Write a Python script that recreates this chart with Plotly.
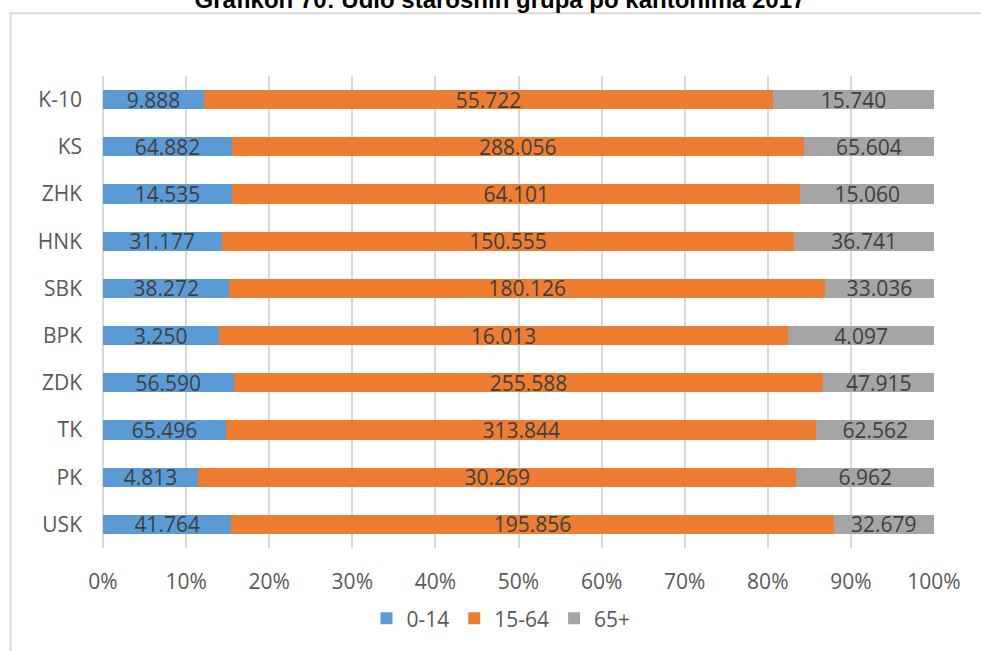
import plotly.graph_objects as go

# ---------------------------------------------------------------------------
# Data — population by age group per canton, 2017 (top to bottom as shown)
# ---------------------------------------------------------------------------
CANTONS = ["K-10", "KS", "ZHK", "HNK", "SBK", "BPK", "ZDK", "TK", "PK", "USK"]
AGE_0_14 = [9888, 64882, 14535, 31177, 38272, 3250, 56590, 65496, 4813, 41764]
AGE_15_64 = [55722, 288056, 64101, 150555, 180126, 16013, 255588, 313844, 30269, 195856]
AGE_65_PLUS = [15740, 65604, 15060, 36741, 33036, 4097, 47915, 62562, 6962, 32679]
SERIES_NAMES = ["0-14", "15-64", "65+"]
X_TICKS = [0, 10, 20, 30, 40, 50, 60, 70, 80, 90, 100]

TITLE = "Grafikon 70: Udio starosnih grupa po kantonima 2017"

# Excel-ish office palette
COLORS = ["#5B9BD5", "#ED7D31", "#A5A5A5"]
GRID_COLOR = "#D9D9D9"
AXIS_TEXT = "#595959"
LABEL_TEXT = "#404040"
FONT = "Open Sans"

W, H = 981, 651
L, R, T, B = 103, 47, 76, 101
PW, PH = W - L - R, H - T - B


def fmt(v):
    """Thousands separated with a dot, e.g. 9.888"""
    return f"{v:,}".replace(",", ".")


def px_to_paper_x(px):
    return (px - L) / PW


def px_to_paper_y(py):
    return (H - B - py) / PH


fig = go.Figure()
for name, vals, color in zip(SERIES_NAMES, [AGE_0_14, AGE_15_64, AGE_65_PLUS], COLORS):
    fig.add_trace(
        go.Bar(
            y=CANTONS,
            x=vals,
            name=name,
            orientation="h",
            marker=dict(color=color, line=dict(width=0)),
            text=[fmt(v) for v in vals],
            textposition="inside",
            insidetextanchor="middle",
            textangle=0,
            constraintext="none",
            textfont=dict(family=FONT, size=21, color=LABEL_TEXT),
        )
    )

fig.update_layout(
    width=W,
    height=H,
    barmode="stack",
    barnorm="percent",
    bargap=0.59,
    paper_bgcolor="white",
    plot_bgcolor="white",
    margin=dict(l=L, r=R, t=T, b=B),
    font=dict(family=FONT, size=21, color=AXIS_TEXT),
    uniformtext=dict(minsize=21, mode="show"),
    # the title sits half outside the page, as in the source screenshot
    title=dict(
        text="<b>" + TITLE + "</b>",
        x=500 / W,
        xanchor="center",
        xref="container",
        y=1.0,
        yanchor="middle",
        yref="container",
        font=dict(family="Liberation Sans, Arial", size=24, color="#000000"),
    ),
    xaxis=dict(
        range=[0, 100],
        tickvals=X_TICKS,
        ticktext=[f"{t}%" for t in X_TICKS],
        showgrid=True,
        gridcolor=GRID_COLOR,
        gridwidth=2,
        zeroline=True,
        zerolinecolor=GRID_COLOR,
        zerolinewidth=2,
        showline=False,
        ticks="",
        ticklabelstandoff=19,
        tickfont=dict(family=FONT, size=21, color=AXIS_TEXT),
    ),
    yaxis=dict(
        autorange="reversed",
        showgrid=False,
        showline=False,
        ticks="",
        ticklabelstandoff=20,
        tickfont=dict(family=FONT, size=21, color=AXIS_TEXT),
    ),
    legend=dict(
        orientation="h",
        x=px_to_paper_x(501),
        xanchor="center",
        y=px_to_paper_y(621),
        yanchor="middle",
        font=dict(family=FONT, size=21, color=AXIS_TEXT),
        itemwidth=30,
        traceorder="normal",
    ),
    shapes=[
        # outer chart border (only top and left edges fall inside the page)
        dict(
            type="rect",
            xref="paper",
            yref="paper",
            x0=px_to_paper_x(10.5),
            x1=px_to_paper_x(995),
            y0=px_to_paper_y(13),
            y1=px_to_paper_y(670),
            line=dict(color=GRID_COLOR, width=2),
            fillcolor="rgba(0,0,0,0)",
            layer="below",
        )
    ],
)

# drop the browser's default 8px body margin so the chart sits at (0, 0)
fig.write_html(
    "out.html",
    config={"displayModeBar": False},
    post_script="document.body.style.margin='0';document.body.style.overflow='hidden';",
)
